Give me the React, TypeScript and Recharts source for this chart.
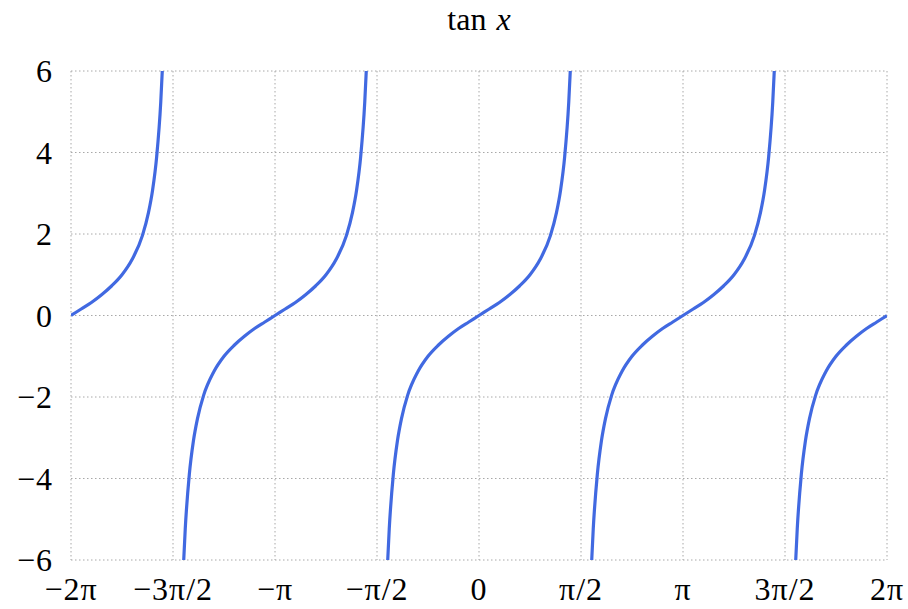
import { LineChart, Line, XAxis, YAxis, CartesianGrid } from 'recharts';

// One period of tan x, in units of π measured from a branch center (x = kπ)
const branchOffsets = [0, 0.05, 0.1, 0.15, 0.2, 0.25, 0.3, 0.35, 0.38, 0.4, 0.42, 0.44, 0.4474];
const branchValues = [0, 0.16, 0.32, 0.51, 0.73, 1.0, 1.38, 1.96, 2.53, 3.08, 3.9, 5.24, 6];

// branch centers, in units of π
const branchCenters = [-2, -1, 0, 1, 2];

const xTicks = [-2, -1.5, -1, -0.5, 0, 0.5, 1, 1.5, 2];
const xTickLabels = ['−2π', '−3π/2', '−π', '−π/2', '0', 'π/2', 'π', '3π/2', '2π'];
const yTicks = [-6, -4, -2, 0, 2, 4, 6];

const FONT = '"Liberation Serif", "DejaVu Serif", serif';

type Pt = { x: number; y: number | null };

const buildData = (): Pt[] => {
    const out: Pt[] = [];
    branchCenters.forEach((c, bi) => {
        const left = branchOffsets
            .map((o, i) => ({ x: c - o, y: -branchValues[i] }))
            .reverse();
        const right = branchOffsets
            .slice(1)
            .map((o, i) => ({ x: c + o, y: branchValues[i + 1] }));
        const pts = [...left, ...right].filter((p) => p.x >= -2 - 1e-9 && p.x <= 2 + 1e-9);
        out.push(...pts);
        // break the line at the asymptote
        if (bi < branchCenters.length - 1) out.push({ x: c + 0.5, y: null });
    });
    return out;
};

const data = buildData();

const tickStyle = { fontSize: 32, fill: '#000', fontFamily: FONT, letterSpacing: 1 };

export default function App() {
    return (
        <div style={{ position: 'absolute', left: 0, top: 0, width: 908, height: 609, background: '#fff' }}>
            <svg width={908} height={60} style={{ position: 'absolute', left: 0, top: 0 }}>
                <text x={479} y={30} textAnchor="middle" fontFamily={FONT} fontSize={32} fill="#000">
                    tan <tspan dx={2} fontStyle="italic">x</tspan>
                </text>
            </svg>
            <LineChart
                width={908}
                height={609}
                data={data}
                margin={{ top: 71, right: 21, bottom: 0, left: 0 }}
            >
                <CartesianGrid stroke="#a8a8a8" strokeDasharray="1.5 2.5" strokeWidth={1} />
                <XAxis
                    dataKey="x"
                    type="number"
                    domain={[-2, 2]}
                    ticks={xTicks}
                    interval={0}
                    allowDataOverflow
                    height={49}
                    axisLine={false}
                    tickLine={false}
                    tickSize={0}
                    tickMargin={17}
                    tick={tickStyle}
                    tickFormatter={(v: number) => xTickLabels[xTicks.indexOf(v)] ?? ''}
                />
                <YAxis
                    type="number"
                    domain={[-6, 6]}
                    ticks={yTicks}
                    interval={0}
                    allowDataOverflow
                    width={71}
                    axisLine={false}
                    tickLine={false}
                    tickSize={0}
                    tickMargin={18}
                    tick={tickStyle}
                    tickFormatter={(v: number) => (v < 0 ? `−${-v}` : `${v}`)}
                />
                <Line
                    dataKey="y"
                    type="monotone"
                    stroke="#4169e1"
                    strokeWidth={3.2}
                    dot={false}
                    connectNulls={false}
                    isAnimationActive={false}
                />
            </LineChart>
        </div>
    );
}
